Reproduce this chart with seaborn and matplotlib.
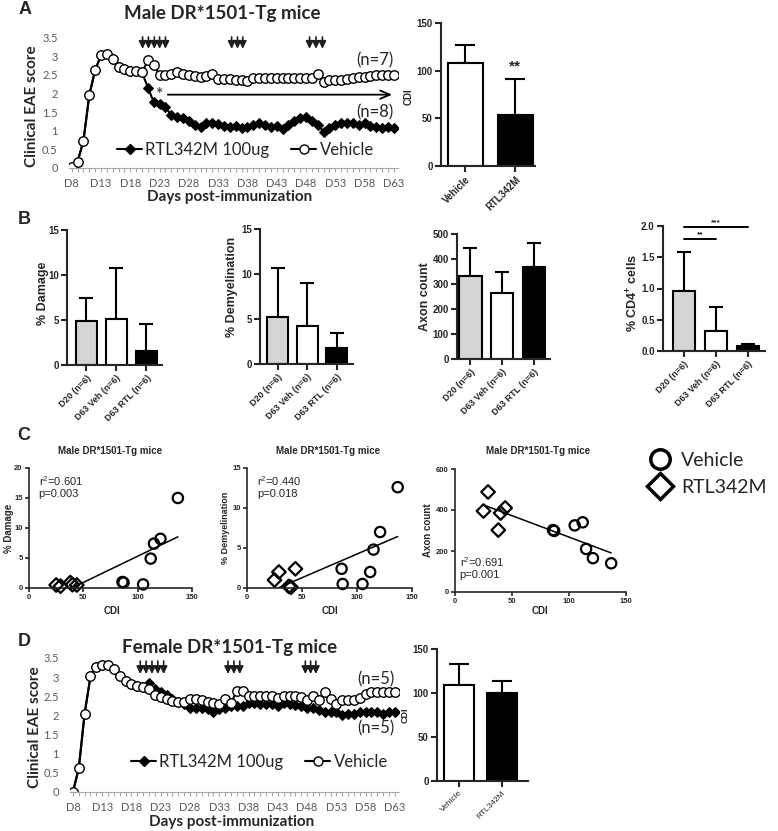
import matplotlib
matplotlib.use("Agg")
import matplotlib.pyplot as plt
from matplotlib.lines import Line2D
import numpy as np
import seaborn as sns

W, H = 778, 831

# ------------------------------------------------------------------
# Data
# ------------------------------------------------------------------
days = list(range(8, 64))
day_ticks = list(range(8, 64, 5))
excel_yticks = [0, 0.5, 1, 1.5, 2, 2.5, 3, 3.5]

# Panel A: male clinical scores (D8-D20 shared, then D21-D63)
male_onset = [0.03, 0.17, 0.73, 1.96, 2.63, 3.03, 3.05, 2.93, 2.71, 2.65, 2.6, 2.6, 2.57]
male_vehicle = male_onset + [
    2.89, 2.77, 2.5, 2.5, 2.52, 2.57, 2.52, 2.5, 2.46, 2.44,
    2.46, 2.52, 2.4, 2.39, 2.38, 2.36, 2.36, 2.34, 2.43, 2.43,
    2.43, 2.43, 2.43, 2.43, 2.43, 2.43, 2.43, 2.43, 2.43, 2.52,
    2.31, 2.36, 2.36, 2.36, 2.38, 2.43, 2.45, 2.45, 2.47, 2.5,
    2.5, 2.5, 2.5]
male_rtl = male_onset + [
    2.16, 1.77, 1.71, 1.63, 1.42, 1.37, 1.33, 1.25, 1.16, 1.09,
    1.2, 1.21, 1.17, 1.12, 1.09, 1.12, 1.07, 1.1, 1.16, 1.2,
    1.16, 1.09, 1.14, 1.05, 1.15, 1.27, 1.34, 1.38, 1.25, 1.15,
    0.98, 1.07, 1.16, 1.22, 1.22, 1.2, 1.15, 1.2, 1.12, 1.1,
    1.07, 1.1, 1.07]
male_arrow_days = [20.1, 21.1, 22.1, 23.0, 24.0, 35.3, 36.3, 37.2, 48.6, 49.7, 50.8]

# Panel D: female clinical scores
female_onset = [0.0, 0.62, 2.05, 3.02, 3.27, 3.32, 3.32, 3.21, 3.03, 2.9, 2.82, 2.77, 2.73]
female_vehicle = female_onset + [
    2.68, 2.53, 2.47, 2.43, 2.38, 2.36, 2.36, 2.43, 2.43, 2.41,
    2.35, 2.33, 2.29, 2.43, 2.33, 2.63, 2.63, 2.5, 2.5, 2.5,
    2.5, 2.5, 2.45, 2.5, 2.5, 2.5, 2.48, 2.4, 2.5, 2.4,
    2.6, 2.43, 2.3, 2.4, 2.4, 2.4, 2.45, 2.55, 2.6, 2.6,
    2.6, 2.6, 2.6]
female_rtl = female_onset + [
    2.84, 2.68, 2.6, 2.53, 2.43, 2.35, 2.3, 2.2, 2.2, 2.2,
    2.17, 2.08, 2.17, 2.2, 2.24, 2.24, 2.24, 2.33, 2.33, 2.3,
    2.3, 2.3, 2.25, 2.33, 2.3, 2.27, 2.24, 2.2, 2.2, 2.15,
    2.1, 2.1, 2.1, 2.0, 2.05, 2.05, 2.1, 2.1, 2.1, 2.1,
    2.05, 2.1, 2.1]
female_arrow_days = [19.5, 20.5, 21.5, 22.5, 23.5, 34.5, 35.5, 36.5, 47.7, 48.6, 49.5]

# CDI bars
cdi_groups = ["Vehicle", "RTL342M"]
male_cdi_mean = [108, 54]
male_cdi_sd = [19, 37]
female_cdi_mean = [109, 100]
female_cdi_sd = [24, 14]

# Panel B: histology
b_groups = ["D20 (n=6)", "D63 Veh (n=6)", "D63 RTL (n=6)"]
b_colors = ["#d4d4d4", "white", "black"]
damage_mean = [4.9, 5.1, 1.6]
damage_sd = [2.5, 5.7, 3.0]
demyel_mean = [5.2, 4.2, 1.8]
demyel_sd = [5.5, 4.8, 1.7]
axon_mean = [333, 263, 367]
axon_sd = [112, 84, 96]
cd4_mean = [0.96, 0.32, 0.08]
cd4_sd = [0.62, 0.39, 0.04]

# Panel C: correlations with CDI
cdi_vehicle = [86, 87, 105, 112, 115, 121, 137]
cdi_rtl = [25, 29, 38, 40, 44]
damage_vehicle = [1.0, 0.9, 0.6, 4.9, 7.4, 8.2, 15.0]
damage_rtl = [0.5, 0.3, 0.9, 0.55, 0.5]
demyel_vehicle = [2.4, 0.5, 0.5, 2.0, 4.8, 7.0, 12.6]
demyel_rtl = [1.0, 2.0, 0.2, 0.1, 2.4]
axon_vehicle = [302, 298, 325, 340, 210, 165, 140]
axon_rtl = [395, 488, 302, 385, 410]

# ------------------------------------------------------------------
sns.set_style("ticks")
plt.rcParams["font.family"] = ["Liberation Sans", "DejaVu Sans"]
plt.rcParams["mathtext.default"] = "regular"

EXCEL = "Lato"
GRAY = "#595959"

fig = plt.figure(figsize=(W / 100, H / 100), dpi=100)
fig.patch.set_facecolor("white")


def box(l, t, r, b):
    return [l / W, 1 - b / H, (r - l) / W, (b - t) / H]


def put(x, y, s, **kw):
    kw.setdefault("ha", "center")
    kw.setdefault("va", "center")
    fig.text(x / W, 1 - y / H, s, **kw)


def excel_panel(rect, rtl, veh, arrow_days, arrow_span, notes, legend_at):
    ax = fig.add_axes(box(*rect))
    sns.lineplot(x=days, y=rtl, ax=ax, color="black", linewidth=1.5, marker="D",
                 markersize=5.5, markerfacecolor="black", markeredgecolor="black")
    sns.lineplot(x=days, y=veh, ax=ax, color="black", linewidth=1.5, marker="o",
                 markersize=6.8, markerfacecolor="white", markeredgecolor="black",
                 markeredgewidth=1.0)
    ax.set_xlim(7.5, 63.7)
    ax.set_ylim(0, 3.5)
    ax.set_xticks(day_ticks)
    ax.set_xticklabels([f"D{d}" for d in day_ticks], family=EXCEL)
    ax.set_xticks(days, minor=True)
    ax.set_yticks(excel_yticks)
    ax.set_yticklabels([f"{v:g}" for v in excel_yticks], family=EXCEL)
    ax.tick_params(axis="x", which="both", direction="out", length=3, width=0.8,
                   color="#a6a6a6", labelsize=8, labelcolor=GRAY, pad=4)
    ax.tick_params(axis="y", length=0, labelsize=8, labelcolor=GRAY, pad=8)
    for side in ("left", "top", "right"):
        ax.spines[side].set_visible(False)
    ax.spines["bottom"].set_color("#a6a6a6")
    ax.set_xlabel("")
    ax.set_ylabel("")
    # treatment days
    for d in arrow_days:
        ax.annotate("", xy=(d, arrow_span[1]), xytext=(d, arrow_span[0]),
                    arrowprops=dict(arrowstyle="-|>,head_width=0.22,head_length=0.45",
                                    color="#1e1e1e", lw=1.2, shrinkA=0, shrinkB=0),
                    annotation_clip=False)
    for txt, yv in notes:
        ax.text(62.9, yv, txt, ha="right", va="center", family=EXCEL, fontsize=12)
    handles = [
        Line2D([], [], color="black", lw=1.5, marker="D", ms=5, mfc="black", mec="black"),
        Line2D([], [], color="black", lw=1.5, marker="o", ms=6.5, mfc="white", mec="black"),
    ]
    fig.legend(handles, ["RTL342M 100ug", "Vehicle"], loc="center left",
               bbox_to_anchor=(legend_at[0] / W, 1 - legend_at[1] / H), ncol=2,
               frameon=False, prop={"family": EXCEL, "size": 12}, handlelength=1.5,
               handletextpad=0.2, columnspacing=1.3, borderpad=0, borderaxespad=0)
    return ax


def prism_bars(rect, labels, means, sds, colors, ylim, yticks, xlim, capsize,
               fmt="{:g}", label_weight="bold", label_size=6.5):
    ax = fig.add_axes(box(*rect))
    sns.barplot(x=labels, y=means, hue=labels, palette=colors, legend=False,
                width=0.7, edgecolor="black", linewidth=1.5, saturation=1, ax=ax)
    ax.errorbar(range(len(means)), means, yerr=[np.zeros(len(means)), sds], fmt="none",
                ecolor="black", elinewidth=1.5, capsize=capsize, capthick=1.5, zorder=0.9)
    ax.set_xlim(*xlim)
    ax.set_ylim(*ylim)
    ax.set_yticks(yticks)
    ax.set_yticklabels([fmt.format(v) for v in yticks], fontweight="bold", fontsize=7)
    ax.set_xticks(range(len(labels)))
    ax.set_xticklabels(labels, rotation=45, ha="right", rotation_mode="anchor",
                       fontweight=label_weight, fontsize=label_size)
    sns.despine(ax=ax)
    for side in ("left", "bottom"):
        ax.spines[side].set_linewidth(1.5)
    ax.tick_params(direction="out", length=4, width=1.5, pad=2)
    ax.set_xlabel("")
    ax.set_ylabel("")
    return ax


def scatter_panel(rect, veh_y, rtl_y, ylim, yticks, stats, text_at):
    ax = fig.add_axes(box(*rect))
    sns.regplot(x=cdi_vehicle + cdi_rtl, y=veh_y + rtl_y, scatter=False, ci=None,
                truncate=True, color="black", line_kws={"lw": 1.1}, ax=ax)
    sns.scatterplot(x=cdi_vehicle, y=veh_y, marker="o", s=55, facecolor="none",
                    edgecolor="black", linewidth=1.6, clip_on=False, ax=ax)
    sns.scatterplot(x=cdi_rtl, y=rtl_y, marker="D", s=48, facecolor="none",
                    edgecolor="black", linewidth=1.6, clip_on=False, ax=ax)
    ax.set_xlim(0, 150)
    ax.set_ylim(*ylim)
    ax.set_xticks([0, 50, 100, 150])
    ax.set_yticks(yticks)
    ax.tick_params(direction="out", length=3, width=1.2, labelsize=5.5, pad=1.5)
    for lab in ax.get_xticklabels() + ax.get_yticklabels():
        lab.set_fontweight("bold")
    sns.despine(ax=ax)
    for side in ("left", "bottom"):
        ax.spines[side].set_linewidth(1.2)
    ax.text(text_at[0], text_at[1], stats, ha="left", va="top", fontsize=8,
            linespacing=1.1)
    ax.set_xlabel("")
    ax.set_ylabel("")
    return ax


# ---------------- Panel A ----------------
put(25, 10, "A", fontsize=13, fontweight="bold")
put(222, 13, "Male DR*1501-Tg mice", family=EXCEL, fontsize=13.5, fontweight="bold")
axA = excel_panel((68.8, 37.7, 398, 168), male_rtl, male_vehicle, male_arrow_days,
                  (3.52, 3.2), [("(n=7)", 2.9), ("(n=8)", 1.5)], (117, 150))
axA.annotate("", xy=(62.7, 1.97), xytext=(24.4, 1.97),
             arrowprops=dict(arrowstyle="->,head_width=0.3,head_length=0.7",
                             color="black", lw=1.3, shrinkA=0, shrinkB=0),
             annotation_clip=False)
axA.text(23.0, 1.97, "*", ha="center", va="center", family=EXCEL, fontsize=13)
put(32, 106, "Clinical EAE score", rotation=90, family=EXCEL, fontsize=11,
    fontweight="bold")
put(230, 197, "Days post-immunization", family=EXCEL, fontsize=11, fontweight="bold")

axAb = prism_bars((441, 23, 535, 166), cdi_groups, male_cdi_mean, male_cdi_sd,
                  ["white", "black"], (0, 150), [0, 50, 100, 150], (-0.49, 1.4),
                  capsize=7, label_size=7)
axAb.text(1, 104, "**", ha="center", va="center", fontsize=11, fontweight="bold")
put(409, 97, "CDI", rotation=90, fontsize=7, fontweight="bold")

# ---------------- Panel B ----------------
put(24, 219, "B", fontsize=13, fontweight="bold")
prism_bars((67, 230, 162, 365), b_groups, damage_mean, damage_sd, b_colors,
           (0, 15), [0, 5, 10, 15], (-0.65, 2.52), capsize=5)
put(43, 293, "% Damage", rotation=90, fontsize=9, fontweight="bold")
prism_bars((260, 229, 353, 364), b_groups, demyel_mean, demyel_sd, b_colors,
           (0, 15), [0, 5, 10, 15], (-0.6, 2.55), capsize=5)
put(232, 287, "% Demyelination", rotation=90, fontsize=9, fontweight="bold")
prism_bars((457, 234, 550, 359), b_groups, axon_mean, axon_sd, b_colors,
           (0, 500), [0, 100, 200, 300, 400, 500], (-0.42, 2.5), capsize=5)
put(425, 297, "Axon count", rotation=90, fontsize=9, fontweight="bold")
axB4 = prism_bars((663, 226, 765, 351), b_groups, cd4_mean, cd4_sd, b_colors,
                  (0, 2.0), [0.0, 0.5, 1.0, 1.5, 2.0], (-0.66, 2.53), capsize=5,
                  fmt="{:.1f}")
put(633, 293, "% CD4$^{+}$ cells", rotation=90, fontsize=9, fontweight="bold")
axB4.plot([0, 1], [1.79, 1.79], color="black", lw=1.4, clip_on=False)
axB4.text(0.5, 1.8, "**", ha="center", va="bottom", fontsize=6, fontweight="bold")
axB4.plot([0, 2], [1.98, 1.98], color="black", lw=1.4, clip_on=False)
axB4.text(1.0, 1.99, "***", ha="center", va="bottom", fontsize=6, fontweight="bold")

# ---------------- Panel C ----------------
put(24, 435, "C", fontsize=13, fontweight="bold")
scatter_panel((29, 468, 192, 588), damage_vehicle, damage_rtl, (0, 20),
              [0, 5, 10, 15, 20], "r$^2$=0.601\np=0.003", (9, 19.0))
scatter_panel((247, 468, 412, 588), demyel_vehicle, demyel_rtl, (0, 15),
              [0, 5, 10, 15], "r$^2$=0.440\np=0.018", (9, 14.2))
scatter_panel((455, 469, 626, 592), axon_vehicle, axon_rtl, (0, 600),
              [0, 200, 400, 600], "r$^2$=0.691\np=0.001", (4, 180))
for cx in (110, 328, 538):
    put(cx, 451, "Male DR*1501-Tg mice", fontsize=7, fontweight="bold")
for cx in (112, 330, 540):
    put(cx, 611, "CDI", fontsize=7, fontweight="bold")
put(9, 528, "% Damage", rotation=90, fontsize=7, fontweight="bold")
put(225, 528, "% Demyelination", rotation=90, fontsize=6.5, fontweight="bold")
put(428, 530, "Axon count", rotation=90, fontsize=7, fontweight="bold")

legend_handles = [
    Line2D([], [], ls="none", marker="o", ms=14, mfc="none", mec="black", mew=2.5),
    Line2D([], [], ls="none", marker="D", ms=13, mfc="none", mec="black", mew=2.5),
]
fig.legend(legend_handles, ["Vehicle", "RTL342M"], loc="center left",
           bbox_to_anchor=(648 / W, 1 - 474 / H), frameon=False,
           prop={"family": EXCEL, "size": 14}, labelspacing=0.5, handletextpad=0.5,
           handlelength=1.2, borderpad=0, borderaxespad=0)

# ---------------- Panel D ----------------
put(24, 642, "D", fontsize=13, fontweight="bold")
put(230, 648, "Female DR*1501-Tg mice", family=EXCEL, fontsize=13.5, fontweight="bold")
excel_panel((70, 658, 399, 792), female_rtl, female_vehicle, female_arrow_days,
            (3.42, 3.08), [("(n=5)", 2.95), ("(n=5)", 1.65)], (131, 762))
put(35, 727, "Clinical EAE score", rotation=90, family=EXCEL, fontsize=11,
    fontweight="bold")
put(232, 822, "Days post-immunization", family=EXCEL, fontsize=11, fontweight="bold")

prism_bars((437, 649, 528, 781), cdi_groups, female_cdi_mean, female_cdi_sd,
           ["white", "black"], (0, 150), [0, 50, 100, 150], (-0.5, 1.6), capsize=7,
           label_weight="normal", label_size=6)
put(405, 715, "CDI", rotation=90, fontsize=6.5, fontweight="bold")

fig.savefig("out.png", dpi=100)
